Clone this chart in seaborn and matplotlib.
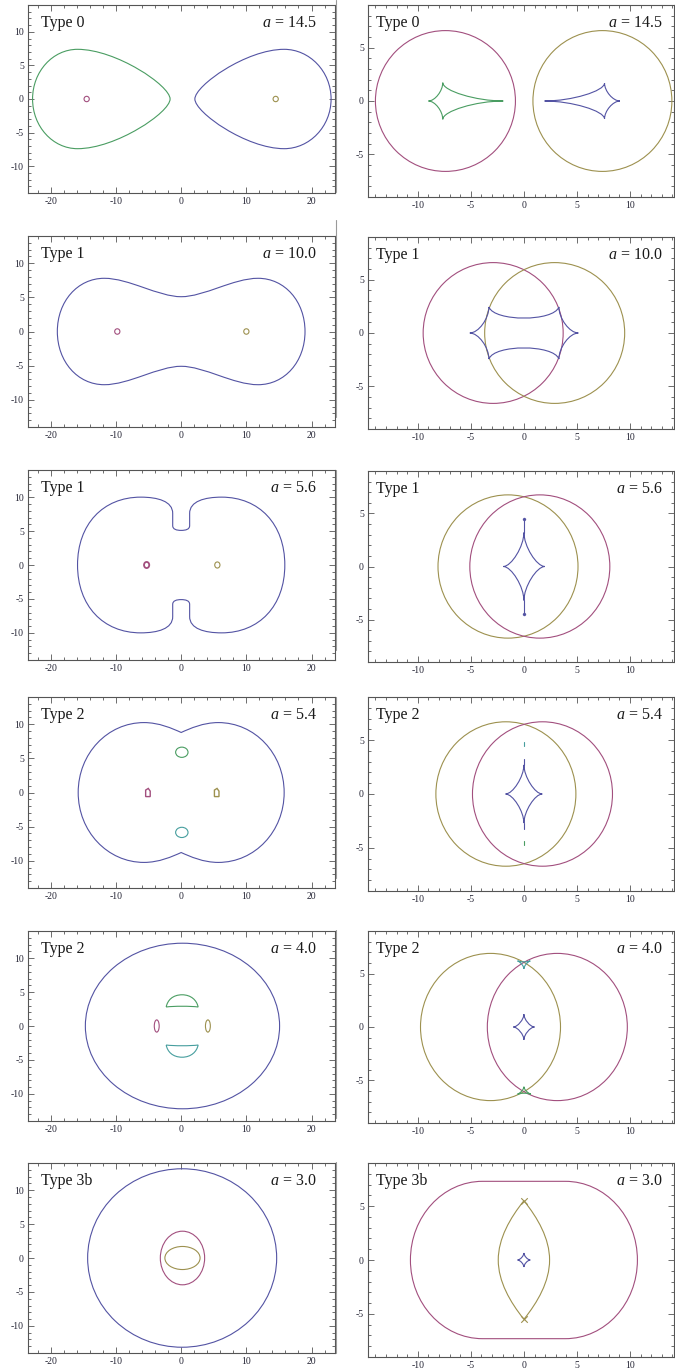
import numpy as np
import pandas as pd
import seaborn as sns
import matplotlib
matplotlib.use("Agg")
import matplotlib.pyplot as plt
from matplotlib.path import Path
from matplotlib.patches import PathPatch, Ellipse, Polygon
from matplotlib.lines import Line2D
from matplotlib.ticker import MultipleLocator

sns.set_theme(style="ticks")
plt.rcParams['font.family'] = ['Liberation Serif', 'DejaVu Serif']
plt.rcParams['mathtext.fontset'] = 'custom'
plt.rcParams['mathtext.it'] = 'Liberation Serif:italic'
plt.rcParams['mathtext.rm'] = 'Liberation Serif'
plt.rcParams['axes.unicode_minus'] = False

# ---------------- data ----------------
a_values = [14.5, 10.0, 5.6, 5.4, 4.0, 3.0]
type_labels = ["Type 0", "Type 1", "Type 1", "Type 2", "Type 2", "Type 3b"]

# Row 1 (a = 14.5): critical curves (upper halves, cubic Bezier control points)
r1_crit_green = [(-22.8, 0), (-22.8, 4.1), (-19.7, 7.4), (-15.9, 7.4),
                 (-10.0, 7.4), (-1.7, 2.0), (-1.7, 0)]
r1_crit_blue = [(23.0, 0), (23.0, 4.1), (19.7, 7.4), (15.8, 7.4),
                (10.0, 7.4), (2.1, 2.0), (2.1, 0)]
r1_cut_pink = (-14.5, 0.0, 0.8, 0.8)     # x, y, width, height
r1_cut_olive = (14.5, 0.0, 0.8, 0.8)
r1_circ_pink = (-7.4, 0.0, 13.2, 13.2)
r1_circ_olive = (7.4, 0.0, 13.1, 13.2)
r1_caus_green = [(-9.0, 0), (-7.65, 1.72), (-1.95, 0), (-7.65, -1.72)]
r1_caus_green_c = (-7.65, 0)
r1_caus_blue = [(1.95, 0), (7.6, 1.68), (9.05, 0), (7.6, -1.68)]
r1_caus_blue_c = (7.6, 0)

# Row 2 (a = 10.0)
r2_crit_blue = [(-19.0, 0), (-19.0, 4.4), (-15.9, 7.8), (-11.8, 7.8),
                (-8.0, 7.8), (-3.5, 5.1), (0, 5.1),
                (3.5, 5.1), (8.0, 7.8), (11.8, 7.8),
                (15.9, 7.8), (19.0, 4.4), (19.0, 0)]
r2_cut_pink = (-9.8, 0.0, 0.8, 0.8)
r2_cut_olive = (10.0, 0.0, 0.8, 0.8)
r2_circ_pink = (-2.9, 0.0, 13.2, 13.2)
r2_circ_olive = (2.9, 0.0, 13.2, 13.2)
r2_caus_blue = [(-5.1, 0), (-4.29, 0), (-3.3, 1.34), (-3.3, 2.44),
                (-2.8, 1.05), (2.8, 1.05), (3.3, 2.44),
                (3.3, 1.34), (4.32, 0), (5.13, 0),
                (4.32, 0), (3.3, -1.34), (3.3, -2.44),
                (2.8, -1.05), (-2.8, -1.05), (-3.3, -2.44),
                (-3.3, -1.34), (-4.29, 0), (-5.1, 0)]

# Row 3 (a = 5.6)
r3_crit_blue = [(-15.9, 0), (-15.9, 6.0), (-12.0, 10.0), (-6.2, 10.0),
                (-3.6, 10.0), (-1.3, 9.4), (-1.3, 7.6),
                (-1.3, 7.0), (-1.3, 6.4), (-1.3, 5.8),
                (-1.3, 5.25), (-0.7, 5.1), (0, 5.1),
                (0.7, 5.1), (1.3, 5.25), (1.3, 5.8),
                (1.3, 6.4), (1.3, 7.0), (1.3, 7.6),
                (1.3, 9.4), (3.6, 10.0), (6.2, 10.0),
                (12.0, 10.0), (15.9, 6.0), (15.9, 0)]
r3_cut_pink = (-5.3, 0.0, 0.8, 0.9)
r3_cut_olive = (5.55, 0.0, 0.8, 0.9)
r3_circ_olive = (-1.5, 0.0, 13.2, 13.5)
r3_circ_pink = (1.5, 0.0, 13.2, 13.5)
r3_caus_blue = [(-1.95, 0), (0, 3.2), (1.98, 0), (0, -3.2)]
r3_needle_y = [3.2, 4.45]

# Row 4 (a = 5.4)
r4_crit_blue = [(-15.8, 0), (-15.8, 5.7), (-11.3, 10.25), (-5.7, 10.25),
                (-3.4, 10.25), (-1.4, 9.4), (0, 8.8),
                (1.4, 9.4), (3.4, 10.25), (5.7, 10.25),
                (11.3, 10.25), (15.8, 5.7), (15.8, 0)]
r4_crit_green = (0.1, 5.9, 1.9, 1.5)
r4_crit_teal = (0.1, -5.85, 1.9, 1.5)
r4_cut_pink = [(-5.45, -0.6), (-4.75, -0.6), (-4.75, 0.2), (-5.05, 0.6), (-5.45, 0.35)]
r4_cut_olive = [(5.1, -0.6), (5.8, -0.6), (5.8, 0.2), (5.5, 0.6), (5.1, 0.35)]
r4_circ_olive = (-1.7, 0.0, 13.2, 13.4)
r4_circ_pink = (1.75, 0.0, 13.2, 13.4)
r4_caus_blue = [(-1.73, 0), (0, 2.7), (1.73, 0), (0, -2.7)]
r4_needle_y = [2.7, 3.25]
r4_caus_teal_y = [4.45, 4.8]
r4_caus_green_y = [-4.4, -4.75]

# Row 5 (a = 4.0)
r5_crit_blue = (0.2, 0.0, 29.8, 24.4)
r5_crit_green = [(-2.3, 2.8), (-2.1, 3.8), (-1.3, 4.6), (0.15, 4.6),
                 (1.5, 4.6), (2.4, 3.8), (2.6, 2.8),
                 (1.5, 2.95), (-1.2, 2.95), (-2.3, 2.8)]
r5_crit_teal = [(-2.3, -2.8), (-2.1, -3.8), (-1.3, -4.6), (0.15, -4.6),
                (1.5, -4.6), (2.4, -3.8), (2.6, -2.8),
                (1.5, -2.95), (-1.2, -2.95), (-2.3, -2.8)]
r5_cut_pink = (-3.75, 0.0, 0.75, 1.8)
r5_cut_olive = (4.1, 0.0, 0.75, 1.8)
r5_circ_olive = (-3.15, 0.0, 13.2, 13.8)
r5_circ_pink = (3.15, 0.0, 13.2, 13.8)
r5_caus_blue = [(-1.0, 0), (0, 1.2), (1.0, 0), (0, -1.2)]
r5_caus_teal = [(-0.6, 6.2), (0.6, 6.2), (0, 5.45)]
r5_caus_teal_c = (0, 5.95)
r5_caus_green = [(-0.6, -6.3), (0, -5.6), (0.65, -6.3)]
r5_caus_green_c = (0, -6.05)

# Row 6 (a = 3.0)
r6_crit_blue = (0.15, 0.0, 29.0, 26.3)
r6_crit_pink = (0.2, 0.0, 6.8, 7.9)
r6_crit_olive = (0.2, 0.0, 5.4, 3.4)
r6_caus_pink = [(-10.7, 0), (-10.7, 4.03), (-7.66, 7.3), (-3.9, 7.3),
                (-1.3, 7.3), (1.3, 7.3), (3.9, 7.3),
                (7.66, 7.3), (10.7, 4.03), (10.7, 0)]
r6_caus_olive = [(0, 5.5), (-1.3, 3.9), (-2.42, 2.0), (-2.42, 0),
                 (-2.42, -2.0), (-1.3, -3.9), (0, -5.5),
                 (1.3, -3.9), (2.42, -2.0), (2.42, 0),
                 (2.42, 2.0), (1.3, 3.9), (0, 5.5)]
r6_cusp_marks = pd.DataFrame({"x": [0.0, 0.0], "y": [5.5, -5.5]})
r6_caus_blue = [(-0.6, 0), (0, 0.65), (0.6, 0), (0, -0.65)]

# ---------------- styling ----------------
BLUE = "#5353a3"
PINK = "#a24f7e"
OLIVE = "#9d914f"
GREEN = "#4a9d62"
TEAL = "#469e9e"
LW = 0.8
FRAME = "#555555"
TICKC = "#252535"

W, H = 675, 1371
left_tops = [5, 236, 470, 697, 931, 1163]
left_bots = [193, 427, 660, 888, 1121, 1353]
right_tops = [5, 237, 471, 697, 931, 1163]
right_bots = [197, 429, 662, 891, 1123, 1357]

fig = plt.figure(figsize=(W / 100, H / 100), dpi=100)


def make_axes(xpx0, xpx1, top, bot):
    return fig.add_axes([xpx0 / W, 1 - bot / H, (xpx1 - xpx0) / W, (bot - top) / H])


def style(ax, xlim, ylim, xmaj, xmin, ymaj, ymin):
    ax.set_xlim(*xlim)
    ax.set_ylim(*ylim)
    ax.xaxis.set_major_locator(MultipleLocator(xmaj))
    ax.xaxis.set_minor_locator(MultipleLocator(xmin))
    ax.yaxis.set_major_locator(MultipleLocator(ymaj))
    ax.yaxis.set_minor_locator(MultipleLocator(ymin))
    ax.tick_params(which="both", direction="in", top=True, right=True,
                   color=FRAME, width=0.6, labelsize=7, labelcolor=TICKC, pad=3)
    ax.tick_params(which="major", length=4)
    ax.tick_params(which="minor", length=2)
    for s in ax.spines.values():
        s.set_color(FRAME)
        s.set_linewidth(0.8)
    ax.set_xlabel("")
    ax.set_ylabel("")


def closed_from_upper(upper):
    lower = [(x, -y) for (x, y) in reversed(upper)]
    return list(upper) + lower[1:]


def bezier(ax, verts, color, lw=LW):
    codes = [Path.MOVETO] + [Path.CURVE4] * (len(verts) - 1)
    ax.add_patch(PathPatch(Path(verts, codes), fill=False, ec=color, lw=lw))


def cusp_curve(ax, cusps, center, color, pull=0.45, lw=LW):
    c = np.array(center, float)
    verts = [tuple(cusps[0])]
    n = len(cusps)
    for i in range(n):
        A = np.array(cusps[i], float)
        B = np.array(cusps[(i + 1) % n], float)
        verts += [tuple(A + pull * (c - A)), tuple(B + pull * (c - B)), tuple(B)]
    bezier(ax, verts, color, lw)


def ellipse(ax, spec, color, lw=LW):
    x, y, w, h = spec
    ax.add_patch(Ellipse((x, y), w, h, fill=False, ec=color, lw=lw))


def needle(ax, xs, ys, color, dots=True):
    df = pd.DataFrame({"x": xs, "y": ys})
    sns.lineplot(data=df, x="x", y="y", sort=False, estimator=None, color=color,
                 lw=LW, ax=ax, legend=False)
    if dots:
        sns.scatterplot(data=df.iloc[[-1]], x="x", y="y", color=color, s=5,
                        edgecolor=color, ax=ax, legend=False)


def labels(ax, i, xl, xr):
    ax.text(xl, 0.948, type_labels[i], transform=ax.transAxes, ha="left", va="top",
            fontsize=11.5, color="#1a1a1a")
    ax.text(xr, 0.948, r"$a$ = %.1f" % a_values[i], transform=ax.transAxes,
            ha="right", va="top", fontsize=11.5, color="#1a1a1a")


axL = [make_axes(28, 335, left_tops[i], left_bots[i]) for i in range(6)]
axR = [make_axes(368, 674, right_tops[i], right_bots[i]) for i in range(6)]

# Row 1
ax = axL[0]
bezier(ax, closed_from_upper(r1_crit_green), GREEN)
bezier(ax, closed_from_upper(r1_crit_blue), BLUE)
ellipse(ax, r1_cut_pink, PINK)
ellipse(ax, r1_cut_olive, OLIVE)
ax = axR[0]
ellipse(ax, r1_circ_pink, PINK)
ellipse(ax, r1_circ_olive, OLIVE)
cusp_curve(ax, r1_caus_green, r1_caus_green_c, GREEN)
cusp_curve(ax, r1_caus_blue, r1_caus_blue_c, BLUE)

# Row 2
ax = axL[1]
bezier(ax, closed_from_upper(r2_crit_blue), BLUE)
ellipse(ax, r2_cut_pink, PINK)
ellipse(ax, r2_cut_olive, OLIVE)
ax = axR[1]
ellipse(ax, r2_circ_pink, PINK)
ellipse(ax, r2_circ_olive, OLIVE)
bezier(ax, r2_caus_blue, BLUE)

# Row 3
ax = axL[2]
bezier(ax, closed_from_upper(r3_crit_blue), BLUE)
ellipse(ax, r3_cut_pink, PINK, lw=1.3)
ellipse(ax, r3_cut_olive, OLIVE)
ax = axR[2]
ellipse(ax, r3_circ_olive, OLIVE)
ellipse(ax, r3_circ_pink, PINK)
cusp_curve(ax, r3_caus_blue, (0, 0), BLUE, pull=0.4)
needle(ax, [0, 0], r3_needle_y, BLUE)
needle(ax, [0, 0], [-v for v in r3_needle_y], BLUE)

# Row 4
ax = axL[3]
bezier(ax, closed_from_upper(r4_crit_blue), BLUE)
ellipse(ax, r4_crit_green, GREEN)
ellipse(ax, r4_crit_teal, TEAL)
ax.add_patch(Polygon(r4_cut_pink, closed=True, fill=False, ec=PINK, lw=LW + 0.2))
ax.add_patch(Polygon(r4_cut_olive, closed=True, fill=False, ec=OLIVE, lw=LW + 0.2))
ax = axR[3]
ellipse(ax, r4_circ_olive, OLIVE)
ellipse(ax, r4_circ_pink, PINK)
cusp_curve(ax, r4_caus_blue, (0, 0), BLUE, pull=0.4)
needle(ax, [0, 0], r4_needle_y, BLUE, dots=False)
needle(ax, [0, 0], [-v for v in r4_needle_y], BLUE, dots=False)
needle(ax, [0, 0], r4_caus_teal_y, TEAL, dots=False)
needle(ax, [0, 0], r4_caus_green_y, GREEN, dots=False)

# Row 5
ax = axL[4]
ellipse(ax, r5_crit_blue, BLUE)
bezier(ax, r5_crit_green, GREEN)
bezier(ax, r5_crit_teal, TEAL)
ellipse(ax, r5_cut_pink, PINK)
ellipse(ax, r5_cut_olive, OLIVE)
ax = axR[4]
ellipse(ax, r5_circ_olive, OLIVE)
ellipse(ax, r5_circ_pink, PINK)
cusp_curve(ax, r5_caus_blue, (0, 0), BLUE, pull=0.4)
cusp_curve(ax, r5_caus_teal, r5_caus_teal_c, TEAL, pull=0.5)
cusp_curve(ax, r5_caus_green, r5_caus_green_c, GREEN, pull=0.5)

# Row 6
ax = axL[5]
ellipse(ax, r6_crit_blue, BLUE)
ellipse(ax, r6_crit_pink, PINK)
ellipse(ax, r6_crit_olive, OLIVE)
ax = axR[5]
bezier(ax, closed_from_upper(r6_caus_pink), PINK)
bezier(ax, r6_caus_olive, OLIVE)
sns.scatterplot(data=r6_cusp_marks, x="x", y="y", marker="x", s=22, color=OLIVE,
                linewidth=0.8, ax=ax, legend=False)
cusp_curve(ax, r6_caus_blue, (0, 0), BLUE, pull=0.4)

for i in range(6):
    style(axL[i], (-23.5, 23.6), (-14, 14), 10, 2, 5, 1)
    style(axR[i], (-14.7, 14.15), (-9, 9), 5, 1, 5, 1)
    labels(axL[i], i, 0.042, 0.94)
    labels(axR[i], i, 0.026, 0.963)

# thin grey separator lines at the left of the right-hand column
sep_rows = [(0, 192), (220, 417), (470, 650), (697, 878), (930, 1118), (1162, 1353)]
for t, b in sep_rows:
    fig.add_artist(Line2D([336 / W, 336 / W], [1 - t / H, 1 - b / H],
                          transform=fig.transFigure, color="#9a9a9a", lw=0.8))

fig.savefig("out.png", dpi=100, facecolor="white")
